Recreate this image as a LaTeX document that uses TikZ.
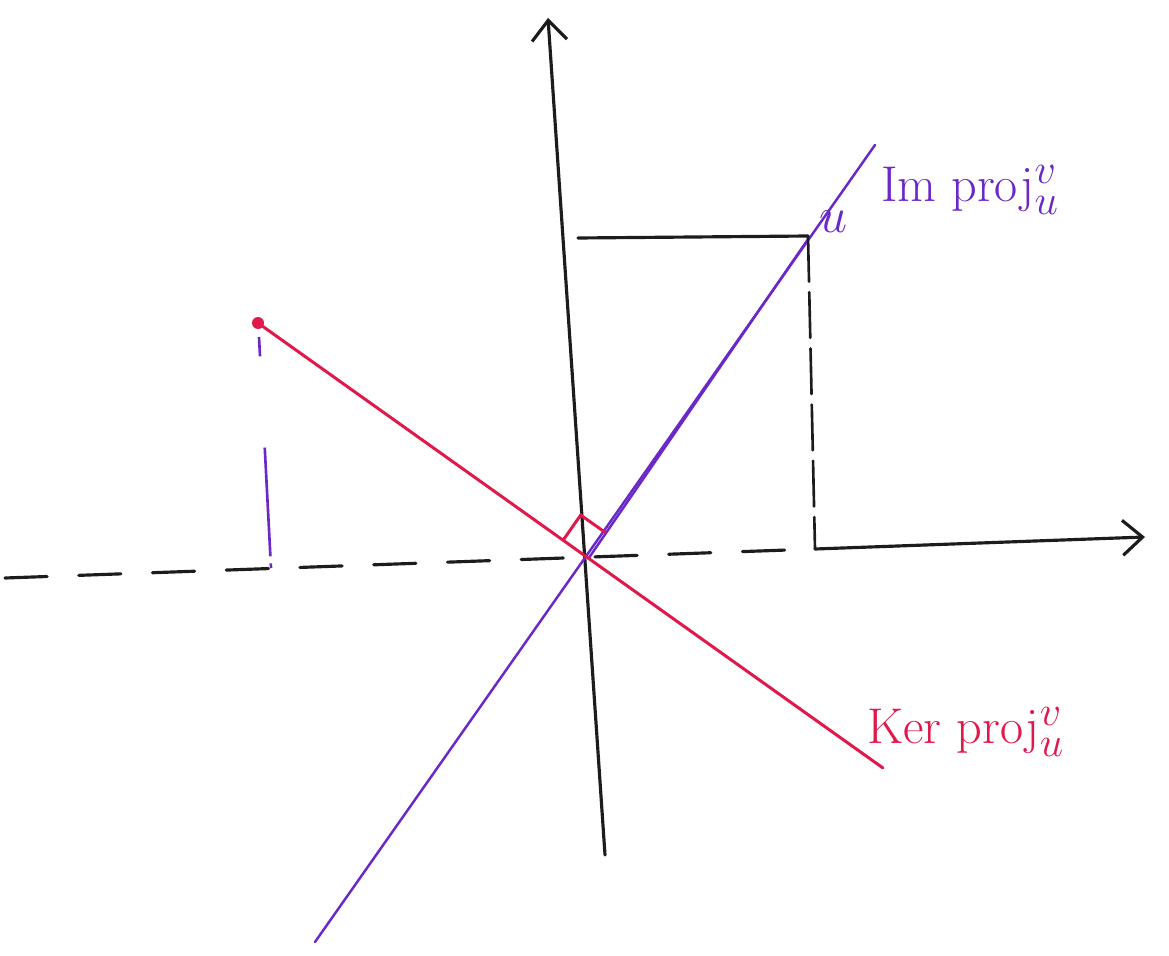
\documentclass[tikz,border=0pt]{standalone}
\usepackage{xcolor}
\usetikzlibrary{arrows.meta, calc}
\definecolor{ink}{HTML}{1C1C1C}
\definecolor{impurple}{HTML}{6A28C8}
\definecolor{kerred}{HTML}{E0194A}
\tikzset{
  axis/.style={line width=1.8pt, draw=ink, line cap=round},
  axisarrow/.style={axis, -{Straight Barb[length=4mm, width=7mm, line width=1.8pt]}},
  dashaxis/.style={axis, dash pattern=on 24pt off 18pt},
  projline/.style={axis, line width=1.5pt, dash pattern=on 26pt off 6pt},
  imline/.style={line width=1.4pt, draw=impurple, line cap=round},
  kerline/.style={line width=1.7pt, draw=kerred, line cap=round},
  kerproj/.style={line width=1.5pt, draw=impurple, dash pattern=on 11pt off 52pt on 62pt off 4pt},
  imtext/.style={text=impurple, font=\Huge, scale=1.15, anchor=west},
  kertext/.style={text=kerred, font=\Huge, scale=1.15, anchor=west},
}

\begin{document}
\begin{tikzpicture}[x=0.02cm, y=-0.02cm]
  \useasboundingbox (0,0) rectangle (1169,956);

  \coordinate (O) at (588,557);
  \coordinate (xleft) at (5,578);
  \coordinate (xtick) at (815,549);
  \coordinate (xright) at (1145,537);
  \coordinate (ybot) at (605,855);
  \coordinate (ytop) at (548,18);
  \coordinate (imstart) at (315,942);
  \coordinate (imend) at (875,145);
  \coordinate (kerstart) at (258,323);
  \coordinate (kerend) at (883,768);
  \coordinate (u) at (808,236);
  \coordinate (uleft) at (578,238);
  \coordinate (kertop) at (259,337);
  \coordinate (kerfoot) at (271,568);

  % axes
  \draw[dashaxis] (xleft) -- (xtick);
  \draw[axisarrow] (xtick) -- (xright);
  \draw[axisarrow] (ybot) -- (ytop);

  % image and kernel lines
  \draw[imline] (imstart) -- (imend);
  \draw[imline] ($(O)+(1.5,0)$) -- ($(u)+(1.5,1)$);
  \draw[kerline] (kerstart) -- (kerend);
  \fill[kerred] (kerstart) circle (6);

  % projections
  \draw[axis] (uleft) -- (u);
  \draw[projline] (u) -- (xtick);
  \draw[kerproj] (kertop) -- (kerfoot);

  % right angle
  \coordinate (ra) at ($(O)!0.6cm!(kerstart)$);
  \coordinate (rb) at ($(O)!0.6cm!(imend)$);
  \draw[kerline] (ra) -- ($(ra)+(rb)-(O)$) -- (rb);

  \node[imtext] (ulabel) at (812,222) {$u$};
  \node[imtext] (imlabel) at (874,190) {$\mathrm{Im}\ \mathrm{proj}_{u}^{v}$};
  \node[kertext] (kerlabel) at (860,732) {$\mathrm{Ker}\ \mathrm{proj}_{u}^{v}$};
\end{tikzpicture}
\end{document}
